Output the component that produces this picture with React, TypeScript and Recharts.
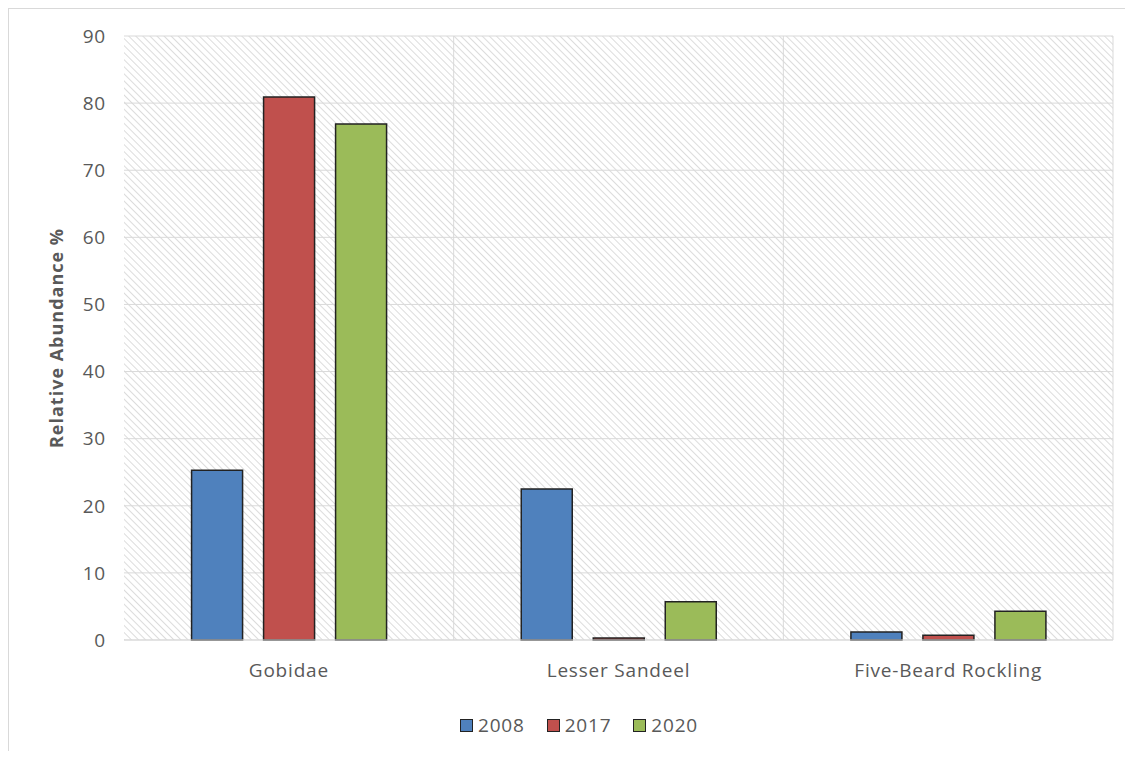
import React from 'react';
import {
  BarChart, Bar, XAxis, YAxis, CartesianGrid, Legend,
} from 'recharts';

const species = ['Gobidae', 'Lesser Sandeel', 'Five-Beard Rockling'];
const values2008 = [25.3, 22.5, 1.2];
const values2017 = [80.9, 0.3, 0.7];
const values2020 = [76.9, 5.7, 4.3];
const yTicks = [0, 10, 20, 30, 40, 50, 60, 70, 80, 90];

const seriesInfo = [
  { key: 'y2008', name: '2008', color: '#4F81BD' },
  { key: 'y2017', name: '2017', color: '#C0504D' },
  { key: 'y2020', name: '2020', color: '#9BBB59' },
];

const data = species.map((name, i) => ({
  name,
  y2008: values2008[i],
  y2017: values2017[i],
  y2020: values2020[i],
}));

const FONT = '"Open Sans", "Liberation Sans", sans-serif';
const TEXT = '#595959';

// legend with bordered squares, like the Excel original
const renderLegend = () => (
  <div style={{ display: 'flex', justifyContent: 'center', alignItems: 'center', gap: 22, paddingLeft: 36, fontFamily: FONT, fontSize: 19, letterSpacing: 0.8, color: TEXT }}>
    {seriesInfo.map((s) => (
      <div key={s.key} style={{ display: 'flex', alignItems: 'center', gap: 5 }}>
        <span style={{ display: 'inline-block', width: 11, height: 11, background: s.color, border: '1px solid #222' }} />
        <span>{s.name}</span>
      </div>
    ))}
  </div>
);

const renderYLabel = (props: any) => {
  const vb = props.viewBox;
  const x = vb.x + 47;
  const y = vb.y + vb.height / 2;
  return (
    <text x={x} y={y} transform={`rotate(-90, ${x}, ${y})`} textAnchor="middle" dominantBaseline="central"
      fontFamily={FONT} fontSize={18} fontWeight="bold" letterSpacing={1} fill={TEXT}>
      Relative Abundance %
    </text>
  );
};

export default function App() {
  return (
    <div style={{ width: 1120, height: 742, borderLeft: '1px solid #d9d9d9', borderTop: '1px solid #d9d9d9', background: '#fff' }}>
      <BarChart
        width={1120}
        height={742}
        data={data}
        margin={{ top: 27, right: 16, left: 0, bottom: 41 }}
        barCategoryGap="20.5%"
        barGap={21}
      >
        <defs>
          <pattern id="hatch" width="5" height="5" patternUnits="userSpaceOnUse" patternTransform="rotate(-45)">
            <rect width="5" height="5" fill="#ffffff" />
            <line x1="0" y1="0" x2="0" y2="5" stroke="#dcdcdc" strokeWidth="2" />
          </pattern>
        </defs>
        <CartesianGrid
          fill="url(#hatch)"
          stroke="#d9d9d9"
          strokeWidth={1}
          verticalCoordinatesGenerator={({ offset }: any) => [
            offset.left + offset.width / 3,
            offset.left + (offset.width * 2) / 3,
            offset.left + offset.width,
          ]}
        />
        <XAxis
          dataKey="name"
          height={40}
          tickLine={false}
          axisLine={{ stroke: '#d9d9d9' }}
          tickMargin={18}
          tick={{ fontFamily: FONT, fontSize: 19, letterSpacing: 0.8, fill: TEXT }}
        />
        <YAxis
          width={115}
          domain={[0, 90]}
          ticks={yTicks}
          interval={0}
          tickLine={false}
          axisLine={false}
          tickMargin={12}
          tick={{ fontFamily: FONT, fontSize: 19, letterSpacing: 0.8, fill: TEXT }}
          label={{ content: renderYLabel }}
        />
        <Legend verticalAlign="bottom" height={30} content={renderLegend} wrapperStyle={{ bottom: 9 }} />
        {seriesInfo.map((s) => (
          <Bar key={s.key} dataKey={s.key} name={s.name} fill={s.color} stroke="#222" strokeWidth={1.5} isAnimationActive={false} />
        ))}
      </BarChart>
    </div>
  );
}
